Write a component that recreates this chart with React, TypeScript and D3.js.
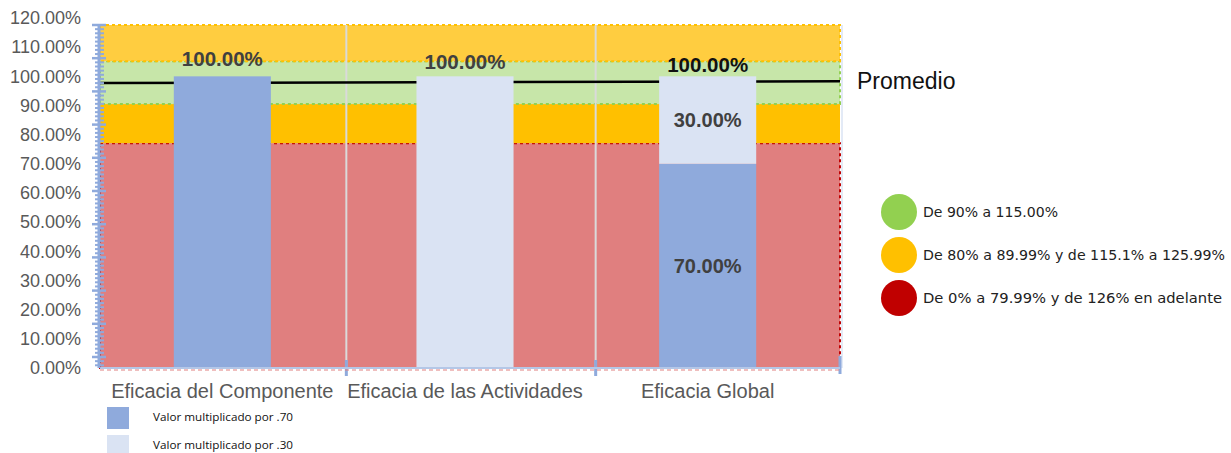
import * as d3 from 'd3'

// Categories and series
const categories = ['Eficacia del Componente', 'Eficacia de las Actividades', 'Eficacia Global']
const part70 = [100, 0, 70]
const part30 = [0, 100, 30]
const totalLabels = ['100.00%', '100.00%', '100.00%']

// Traffic-light bands behind the bars (in % of the value axis)
const bandStops = [0, 77.1, 90.5, 105.2, 117.6]
const bandFills = ['#e07f7f', '#ffc000', '#c7e6a9', '#ffcd40']
const bandStrokes = ['#c00000', 'none', '#92d050', '#ffc000']

// Average line, start and end value
const promedio = [97.7, 98.3]

const yTicks = [0, 10, 20, 30, 40, 50, 60, 70, 80, 90, 100, 110, 120]

const legendItems = [
  { label: 'De 90% a 115.00%', color: '#92d050' },
  { label: 'De 80% a 89.99% y de 115.1% a 125.99%', color: '#ffc000' },
  { label: 'De 0% a 79.99% y de 126% en adelante', color: '#c00000' },
]
const seriesLegend = [
  { label: 'Valor multiplicado por .70', color: '#8faadc' },
  { label: 'Valor multiplicado por .30', color: '#dae3f3' },
]

const W = 1231
const H = 453
const plotLeft = 100
const plotRight = 840

export default function App() {
  const y = d3.scaleLinear().domain([0, 120]).range([368, 18])
  const x = d3.scaleBand<string>()
    .domain(categories)
    .range([101, 829])
    .paddingInner(0.6)
    .paddingOuter(0.3)
  const xGrid = d3.scaleBand<string>().domain(categories).range([plotLeft - 3, plotRight + 5])
  const xLine = d3.scaleLinear().domain([0, promedio.length - 1]).range([plotLeft, plotRight])

  // decorative ruler on the value axis
  const ruler = d3.scaleLinear().domain([0, 10]).range([357, 25])
  const majors = ruler.ticks(10)
  const minors = d3.range(-2, 81).map(i => i / 8).filter(v => !Number.isInteger(v))

  const bands = bandFills.map((fill, i) => ({
    fill,
    stroke: bandStrokes[i],
    y0: bandStops[i],
    y1: bandStops[i + 1],
  }))

  const line = d3.line<number>()
    .x((_, i) => xLine(i))
    .y(d => y(d))

  const font = 'Arial, "Liberation Sans", Helvetica, sans-serif'

  return (
    <div style={{ position: 'absolute', left: 0, top: 0 }}>
      <svg width={W} height={H} style={{ display: 'block', background: '#fff' }}>
        {/* Bands */}
        {bands.map((b, i) => (
          <rect
            key={i}
            x={plotLeft}
            y={y(b.y1)}
            width={plotRight - plotLeft}
            height={y(b.y0) - y(b.y1)}
            fill={b.fill}
            stroke={b.stroke}
            strokeWidth={2}
            strokeDasharray="3 3"
          />
        ))}

        {/* Category separators */}
        {categories.slice(1).map(c => (
          <g key={c}>
            <line x1={xGrid(c)} x2={xGrid(c)} y1={y(117.6)} y2={y(0)} stroke="#dadada" strokeWidth={2} />
            <line x1={xGrid(c)} x2={xGrid(c)} y1={y(0) - 8} y2={y(0) + 8} stroke="#8faadc" strokeWidth={3} />
          </g>
        ))}
        <line x1={plotRight + 2} x2={plotRight + 2} y1={y(117.6)} y2={y(0)} stroke="#dae3f3" strokeWidth={1.5} />
        <line x1={plotRight} x2={plotRight} y1={y(0) - 12} y2={y(0) + 6} stroke="#8faadc" strokeWidth={3} />

        {/* Average line */}
        <path d={line(promedio) || ''} fill="none" stroke="#000" strokeWidth={2.5} />

        {/* Stacked bars */}
        {categories.map((c, i) => (
          <g key={c}>
            {part70[i] > 0 && (
              <rect x={x(c)} y={y(part70[i])} width={x.bandwidth()} height={y(0) - y(part70[i])} fill="#8faadc" />
            )}
            {part30[i] > 0 && (
              <rect
                x={x(c)}
                y={y(part70[i] + part30[i])}
                width={x.bandwidth()}
                height={y(part70[i]) - y(part70[i] + part30[i])}
                fill="#dae3f3"
              />
            )}
          </g>
        ))}

        {/* Segment labels for the mixed bar */}
        {categories.map((c, i) =>
          part70[i] > 0 && part30[i] > 0 ? (
            <g key={c} fontFamily={font} fontWeight="bold" fontSize={20} fill="#404040" textAnchor="middle">
              <text x={(x(c) || 0) + x.bandwidth() / 2} y={(y(0) + y(part70[i])) / 2} dy="0.35em">
                {part70[i].toFixed(2)}%
              </text>
              <text x={(x(c) || 0) + x.bandwidth() / 2} y={(y(part70[i]) + y(part70[i] + part30[i])) / 2} dy="0.35em">
                {part30[i].toFixed(2)}%
              </text>
            </g>
          ) : null
        )}

        {/* Total labels */}
        {categories.map((c, i) => (
          <text
            key={c}
            x={(x(c) || 0) + x.bandwidth() / 2}
            y={y(part70[i] + part30[i]) - 10 + i * 3}
            textAnchor="middle"
            fontFamily={font}
            fontWeight="bold"
            fontSize={20.5}
            fill={i === 2 ? '#111' : '#404040'}
          >
            {totalLabels[i]}
          </text>
        ))}

        {/* X axis */}
        <line x1={plotLeft} x2={plotRight} y1={y(0) + 2} y2={y(0) + 2} stroke="#e07f7f" strokeWidth={1} strokeDasharray="4 3" />
        <line x1={plotLeft} x2={plotRight} y1={y(0)} y2={y(0)} stroke="#b4c7e7" strokeWidth={2} />
        {categories.map(c => (
          <text
            key={c}
            x={(x(c) || 0) + x.bandwidth() / 2}
            y={398}
            textAnchor="middle"
            fontFamily={font}
            fontSize={20}
            fill="#595959"
          >
            {c}
          </text>
        ))}

        {/* Y axis ruler */}
        <line x1={plotLeft - 1} x2={plotLeft - 1} y1={ruler(10)} y2={y(0)} stroke="#8faadc" strokeWidth={3} />
        {minors.map(v => (
          <line key={'m' + v} x1={plotLeft - 5} x2={plotLeft + 4} y1={ruler(v)} y2={ruler(v)} stroke="#8faadc" strokeWidth={2} />
        ))}
        {majors.map(v => (
          <line key={'M' + v} x1={plotLeft - 8} x2={plotLeft + 6} y1={ruler(v)} y2={ruler(v)} stroke="#8faadc" strokeWidth={2.5} />
        ))}
        {yTicks.map(t => (
          <text key={t} x={81} y={y(t)} dy="0.35em" textAnchor="end" fontFamily={font} fontSize={18} fill="#595959">
            {t.toFixed(2)}%
          </text>
        ))}

        {/* Promedio label */}
        <text x={857} y={y(promedio[1])} dy="0.35em" fontFamily={font} fontSize={23} fill="#111">
          Promedio
        </text>

        {/* Traffic light legend */}
        {legendItems.map((d, i) => (
          <g key={d.label} transform={`translate(899,${212 + i * 43})`}>
            <circle r={18} fill={d.color} />
            <text
              x={24}
              dy="0.35em"
              fontFamily='"DejaVu Sans", sans-serif'
              fontSize={14}
              fill="#222"
              textLength={i === 0 ? 135 : i === 1 ? 302 : 299}
              lengthAdjust="spacingAndGlyphs"
            >
              {d.label}
            </text>
          </g>
        ))}

        {/* Series legend */}
        {seriesLegend.map((d, i) => (
          <g key={d.label} transform={`translate(107,${407 + i * 28})`}>
            <rect width={22} height={22} fill={d.color} />
            <text
              x={46}
              y={14}
              fontFamily='"Open Sans", sans-serif'
              fontSize={11.5}
              fill="#111"
              textLength={140}
              lengthAdjust="spacingAndGlyphs"
            >
              {d.label}
            </text>
          </g>
        ))}
      </svg>
    </div>
  )
}
